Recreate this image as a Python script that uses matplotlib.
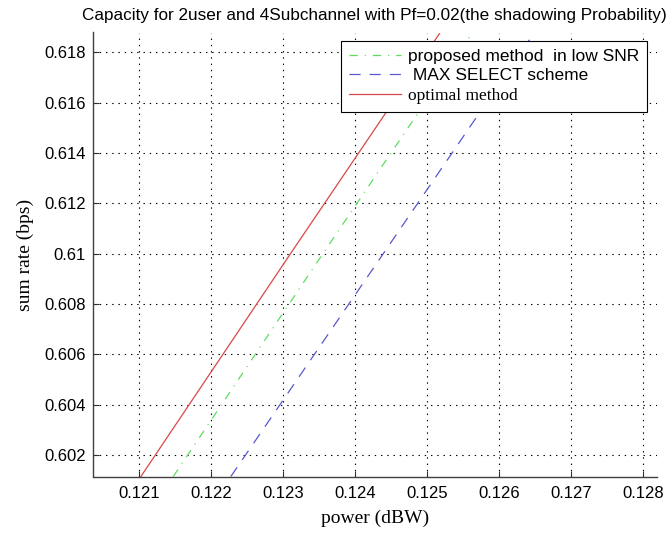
import matplotlib
matplotlib.use("Agg")
import matplotlib.pyplot as plt
from matplotlib.ticker import FuncFormatter

# values
power_proposed = [0.12147, 0.12355, 0.12563]
rate_proposed = [0.60114, 0.610, 0.61879]

power_maxsel = [0.12227, 0.12439, 0.12642]
rate_maxsel = [0.60114, 0.610, 0.6185]

power_optimal = [0.12102, 0.12310, 0.12518]
rate_optimal = [0.60114, 0.610, 0.61879]

labels = ["proposed method  in low SNR", " MAX SELECT scheme", "optimal method"]
x_ticks = [0.121, 0.122, 0.123, 0.124, 0.125, 0.126, 0.127, 0.128]
y_ticks = [0.602, 0.604, 0.606, 0.608, 0.610, 0.612, 0.614, 0.616, 0.618]

plt.rcParams['font.family'] = ['Liberation Sans', 'DejaVu Sans']
plt.rcParams['lines.scale_dashes'] = False

W, H = 670, 535
fig = plt.figure(figsize=(W / 100, H / 100), dpi=100)
ax = fig.add_axes([92.7 / W, 1 - 476.5 / H, (656.7 - 92.7) / W, (476.5 - 32.5) / H])

ax.plot(power_proposed, rate_proposed, color='#5ddd5d', lw=0.9,
        dashes=(6, 5, 0.8, 5), label=labels[0])
ax.plot(power_maxsel, rate_maxsel, color='#5858cc', lw=0.9,
        dashes=(8, 6.5), label=labels[1])
ax.plot(power_optimal, rate_optimal, color='#d84848', lw=0.9, label=labels[2])

ax.set_xlim(0.12035, 0.12819)
ax.set_ylim(0.60114, 0.61879)
ax.set_xticks(x_ticks)
ax.set_yticks(y_ticks)
fmt = FuncFormatter(lambda v, p: '%g' % round(v, 4))
ax.xaxis.set_major_formatter(fmt)
ax.yaxis.set_major_formatter(fmt)
ax.tick_params(direction='in', length=4, width=0.8, labelsize=12, color='#303030',
               top=False, right=False)
ax.tick_params(axis='x', pad=7)
ax.tick_params(axis='y', pad=5)

ax.grid(True, color='black', lw=0.8, linestyle=(0, (1, 3.5)))
for s in ['top', 'right']:
    ax.spines[s].set_visible(False)
for s in ['left', 'bottom']:
    ax.spines[s].set_color('#404040')
    ax.spines[s].set_linewidth(1.0)

leg = ax.legend(loc='upper right', bbox_to_anchor=(647 / W, 1 - 41 / H),
                bbox_transform=fig.transFigure, borderaxespad=0,
                fontsize=12.5, fancybox=False, framealpha=1, edgecolor='black',
                handlelength=3.0, handletextpad=0.4, labelspacing=0.25, borderpad=0.45)
leg.get_frame().set_linewidth(0.8)
leg.get_texts()[2].set_family('Liberation Serif')

fig.text(374.7 / W, 1 - 20 / H, "Capacity for 2user and 4Subchannel with Pf=0.02(the shadowing Probability)",
         ha='center', va='baseline', fontsize=12.3)
fig.text(374.7 / W, 1 - 518 / H, "power (dBW)", ha='center', va='center',
         fontsize=14, family='Liberation Serif')
fig.text(25 / W, 1 - 254.5 / H, "sum rate (bps)", ha='center', va='center',
         rotation=90, fontsize=14, family='Liberation Serif')

fig.savefig('out.png', dpi=100)
